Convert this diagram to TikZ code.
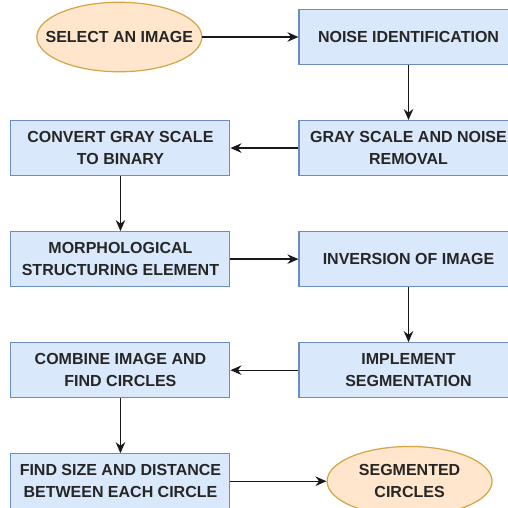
\documentclass[tikz,border=0pt]{standalone}
\usepackage{fontspec}
\setmainfont{Liberation Sans}
\usepackage{xcolor}
\usepackage{tikz}
\usetikzlibrary{arrows.meta, positioning, shapes.geometric}

\definecolor{boxfill}{HTML}{DAE8FC}
\definecolor{boxline}{HTML}{6C8EBF}
\definecolor{ovalfill}{HTML}{FFE6CC}
\definecolor{ovalline}{HTML}{D6A545}

\begin{document}
\begin{tikzpicture}[
    stage/.style={
        rectangle, draw=boxline, fill=boxfill, line width=0.6pt,
        minimum width=4.38cm, minimum height=1.1cm, inner sep=0pt,
        align=center, font=\fontsize{9.1}{12.5}\selectfont\bfseries,
        text=black!85
    },
    terminal/.style={
        ellipse, draw=ovalline, fill=ovalfill, line width=0.7pt,
        minimum width=3.3cm, minimum height=1.39cm,
        inner xsep=-0.4cm, inner ysep=0pt,
        align=center, font=\fontsize{9.1}{12.5}\selectfont\bfseries,
        text=black!85
    },
    arr/.style={-{Stealth[length=2.2mm, width=1.9mm]}, line width=0.75pt, black!90}
]
\useasboundingbox (0,0) rectangle (10.16,-10.16);
\clip (0,0) rectangle (10.16,-10.16);

% Stages of the flow
\node[stage] (noise) at (8.17,-0.74) {NOISE IDENTIFICATION};
\node[terminal, left=1.92cm of noise] (select) {SELECT AN IMAGE};
\node[stage, below=1.1cm of noise] (gray) {GRAY SCALE AND NOISE\\REMOVAL};
\node[stage, left=1.36cm of gray] (binary) {CONVERT GRAY SCALE\\TO BINARY};
\node[stage, below=1.1cm of binary] (morph) {MORPHOLOGICAL\\STRUCTURING ELEMENT};
\node[stage, right=1.36cm of morph] (invert) {INVERSION OF IMAGE};
\node[stage, below=1.1cm of invert] (segment) {IMPLEMENT\\SEGMENTATION};
\node[stage, left=1.36cm of segment] (combine) {COMBINE IMAGE AND\\FIND CIRCLES};
\node[stage, below=1.1cm of combine] (size) {FIND SIZE AND DISTANCE\\BETWEEN EACH CIRCLE};
\node[terminal, right=1.92cm of size] (result) {SEGMENTED\\CIRCLES};

% Arrows between stages
\draw[arr] (select) -- (noise);
\draw[arr] (noise) -- (gray);
\draw[arr] (gray) -- (binary);
\draw[arr] (binary) -- (morph);
\draw[arr] (morph) -- (invert);
\draw[arr] (invert) -- (segment);
\draw[arr] (segment) -- (combine);
\draw[arr] (combine) -- (size);
\draw[arr] (size) -- (result);

\end{tikzpicture}
\end{document}
